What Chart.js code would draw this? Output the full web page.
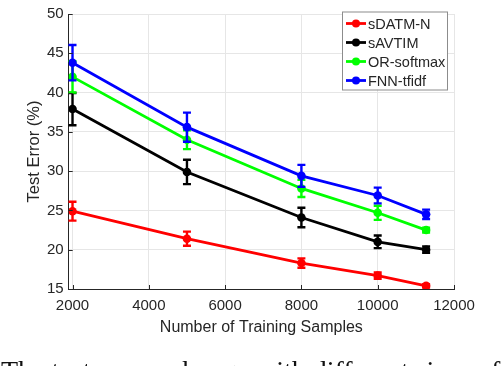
<!DOCTYPE html>
<html>
<head>
<meta charset="utf-8">
<script src="https://cdn.jsdelivr.net/npm/chart.js@4.4.1/dist/chart.umd.min.js"></script>
<style>
  html, body { margin: 0; padding: 0; background: #fff; }
  #wrap { position: relative; width: 504px; height: 366px; overflow: hidden; }
  #caption {
    position: absolute; left: 1px; top: 355px; white-space: nowrap;
    font-family: "Liberation Serif", "DejaVu Serif", serif; font-size: 28px; color: #111;
  }
</style>
</head>
<body>
<div id="wrap">
  <canvas id="errChart" width="504" height="366"></canvas>
  <div id="caption">The test errors change with different sizes of</div>
</div>
<script>
const samples = [2000, 5000, 8000, 10000, 11269];

const seriesNames = ["sDATM-N", "sAVTIM", "OR-softmax", "FNN-tfidf"];
const seriesColors = ["#ff0000", "#000000", "#00ff00", "#0000ff"];

const sdatmErr = [24.9, 21.4, 18.3, 16.7, 15.4];
const savtimErr = [37.9, 29.9, 24.1, 21.0, 20.0];
const orSoftmaxErr = [42.0, 34.0, 27.8, 24.7, 22.5];
const fnnErr = [43.8, 35.6, 29.4, 26.9, 24.5];

// half widths of the error bars
const sdatmStd = [1.2, 0.9, 0.6, 0.4, 0.2];
const savtimStd = [2.05, 1.55, 1.25, 0.8, 0.4];
const orSoftmaxStd = [2.0, 1.2, 1.1, 0.9, 0.3];
const fnnStd = [2.25, 1.85, 1.4, 1.0, 0.6];

const xTicks = [2000, 4000, 6000, 8000, 10000, 12000];
const yTicks = [15, 20, 25, 30, 35, 40, 45, 50];

const allValues = [sdatmErr, savtimErr, orSoftmaxErr, fnnErr];
const allStd = [sdatmStd, savtimStd, orSoftmaxStd, fnnStd];

const axisGrey = "#262626";

const datasets = seriesNames.map(function (name, i) {
    return {
        label: name,
        data: samples.map((x, j) => ({ x: x, y: allValues[i][j] })),
        errs: allStd[i],
        borderColor: seriesColors[i],
        backgroundColor: seriesColors[i],
        borderWidth: 2.8,
        pointRadius: 4.3,
        pointHoverRadius: 4.3,
        pointBorderWidth: 0,
        tension: 0,
        order: 4 - i  // blue drawn on top, like the original
    };
});

// error bars, drawn right after each line so the overlap is kept
const errorBars = {
    id: "errorBars",
    afterDatasetDraw(chart, args) {
        const ds = chart.data.datasets[args.index];
        const xs = chart.scales.x, ys = chart.scales.y;
        const ctx = chart.ctx;
        ctx.save();
        ctx.strokeStyle = ds.borderColor;
        ctx.lineWidth = 2.4;
        ds.data.forEach(function (p, j) {
            const px = xs.getPixelForValue(p.x);
            const top = ys.getPixelForValue(p.y + ds.errs[j]);
            const bot = ys.getPixelForValue(p.y - ds.errs[j]);
            ctx.beginPath();
            ctx.moveTo(px, top); ctx.lineTo(px, bot);
            ctx.moveTo(px - 4, top); ctx.lineTo(px + 4, top);
            ctx.moveTo(px - 4, bot); ctx.lineTo(px + 4, bot);
            ctx.stroke();
        });
        ctx.restore();
    }
};

// little inward ticks on the axes (matlab style)
const innerTicks = {
    id: "innerTicks",
    afterDraw(chart) {
        const xs = chart.scales.x, ys = chart.scales.y;
        const ctx = chart.ctx;
        const b = chart.chartArea.bottom, l = chart.chartArea.left;
        ctx.save();
        ctx.strokeStyle = axisGrey;
        ctx.lineWidth = 1;
        xTicks.forEach(function (t) {
            const px = Math.round(xs.getPixelForValue(t)) + 0.5;
            ctx.beginPath(); ctx.moveTo(px, b); ctx.lineTo(px, b - 4); ctx.stroke();
        });
        yTicks.forEach(function (t) {
            const py = Math.round(ys.getPixelForValue(t)) + 0.5;
            ctx.beginPath(); ctx.moveTo(l, py); ctx.lineTo(l + 4, py); ctx.stroke();
        });
        ctx.restore();
    }
};

// legend box in the top right of the plot
const boxLegend = {
    id: "boxLegend",
    afterDraw(chart) {
        const ctx = chart.ctx;
        const x0 = 342, y0 = 11.5, w = 105, h = 78;
        ctx.save();
        ctx.fillStyle = "#fff";
        ctx.fillRect(x0, y0, w, h);
        ctx.strokeStyle = "#8c8c8c";
        ctx.lineWidth = 1;
        ctx.strokeRect(x0 + 0.5, y0 + 0.5, w, h);
        ctx.font = "14.5px 'Liberation Sans', Arial, sans-serif";
        ctx.textBaseline = "middle";
        seriesNames.forEach(function (name, i) {
            const y = y0 + 12 + i * 19;
            ctx.strokeStyle = seriesColors[i];
            ctx.fillStyle = seriesColors[i];
            ctx.lineWidth = 2.8;
            ctx.beginPath(); ctx.moveTo(x0 + 4, y); ctx.lineTo(x0 + 24, y); ctx.stroke();
            ctx.beginPath(); ctx.arc(x0 + 14, y, 4, 0, Math.PI * 2); ctx.fill();
            ctx.fillStyle = axisGrey;
            ctx.fillText(name, x0 + 26, y + 1);
        });
        ctx.restore();
    }
};

new Chart("errChart", {
    type: "line",
    data: { datasets: datasets },
    plugins: [errorBars, innerTicks, boxLegend],
    options: {
        responsive: false,
        animation: false,
        events: [],
        layout: { padding: { left: 0, right: 50, top: 5, bottom: 26 } },
        plugins: { legend: { display: false }, tooltip: { enabled: false } },
        scales: {
            x: {
                type: "linear",
                min: 1900, max: 12000,
                afterBuildTicks: s => { s.ticks = xTicks.map(v => ({ value: v })); },
                afterFit: s => { s.height = 51; },
                ticks: {
                    color: axisGrey, padding: 8,
                    font: { family: "'Liberation Sans', Arial, sans-serif", size: 15 },
                    callback: v => String(v)
                },
                grid: { color: "#e6e6e6", drawTicks: false },
                border: { color: axisGrey, width: 1 },
                title: {
                    display: true, text: "Number of Training Samples", color: axisGrey,
                    font: { family: "'Liberation Sans', Arial, sans-serif", size: 16 },
                    padding: { top: 0, bottom: 3 }
                }
            },
            y: {
                min: 15, max: 50,
                afterBuildTicks: s => { s.ticks = yTicks.map(v => ({ value: v })); },
                afterFit: s => { s.width = 68.7; },
                ticks: {
                    color: axisGrey, padding: 5,
                    font: { family: "'Liberation Sans', Arial, sans-serif", size: 15 }
                },
                grid: { color: "#e6e6e6", drawTicks: false },
                border: { color: axisGrey, width: 1 },
                title: {
                    display: true, text: "Test Error (%)", color: axisGrey,
                    font: { family: "'Liberation Sans', Arial, sans-serif", size: 16.5 },
                    padding: { top: 25, bottom: 0 }
                }
            }
        }
    }
});
</script>
</body>
</html>
